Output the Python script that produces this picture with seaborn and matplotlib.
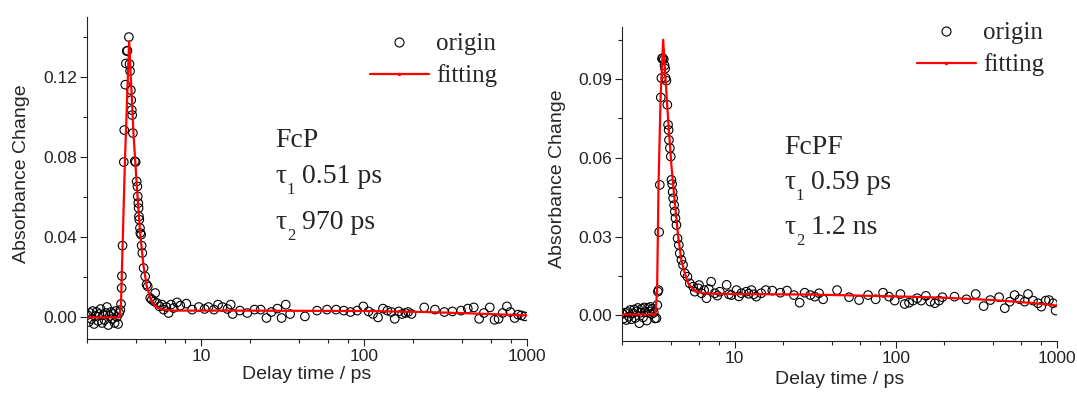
import matplotlib
matplotlib.use("Agg")
import matplotlib.pyplot as plt
import seaborn as sns
from matplotlib.lines import Line2D
from matplotlib.ticker import NullFormatter, FormatStrFormatter

# ---- FcP (left panel) ----
fcp_t = [2.00, 2.04, 2.08, 2.12, 2.16, 2.20, 2.24, 2.28, 2.33, 2.37, 2.41, 2.46, 2.50, 2.55,
         2.59, 2.64, 2.69, 2.74, 2.79, 2.84, 2.89, 2.94, 2.99, 3.04, 3.09, 3.14, 3.19,
         3.22, 3.25, 3.26, 3.29, 3.35, 3.37, 3.42, 3.45, 3.49, 3.53, 3.60,
         3.63, 3.66, 3.70, 3.72, 3.75, 3.77, 3.81, 3.91, 3.96, 4.02, 4.06, 4.08, 4.11, 4.13,
         4.15, 4.17, 4.21, 4.23, 4.28, 4.31, 4.35, 4.43, 4.53, 4.62, 4.70, 4.87, 4.98, 5.15,
         5.22, 5.35, 5.55, 5.74, 5.88, 6.11, 6.31, 6.53, 6.77, 7.11, 7.45, 8.11, 8.80, 9.67,
         10.5, 11.1, 12.0, 12.7, 13.5, 14.5, 15.2, 15.6, 17.3, 19.2, 21.3, 23.2, 25.2, 27.0,
         29.4, 31.2, 33.1, 35.2, 43.4, 51.5, 59.3, 67.4, 75.2, 82.6, 90.9, 99.1, 106.7, 113.6,
         122.0, 130.9, 139.2, 147.3, 154.5, 163.6, 171.6, 179.9, 186.9, 196.0, 234.6, 272.9,
         311.8, 349.4, 394.9, 434.3, 472.9, 510, 545, 593, 634, 671, 711, 755, 792, 843, 884,
         927, 972]
fcp_a = [0.0010, -0.0025, 0.0020, -0.0010, 0.0030, -0.0035, 0.0005, 0.0025, -0.0020, 0.0015,
         0.0040, -0.0030, 0.0010, -0.0015, 0.0020, 0.0050, -0.0040, 0.0005, 0.0025, -0.0010,
         0.0015, -0.0030, 0.0030, 0.0000, -0.0035, 0.0020, 0.0035,
         0.0065, 0.0145, 0.0205, 0.0357, 0.0775, 0.0935, 0.1162, 0.1268, 0.1330, 0.1332, 0.1400,
         0.1265, 0.1230, 0.1135, 0.1085, 0.1035, 0.1010, 0.0920, 0.0779, 0.0775, 0.0678, 0.0653,
         0.0603, 0.0570, 0.0545, 0.0503, 0.0487, 0.0445, 0.0420, 0.0412, 0.0357, 0.0320, 0.0245,
         0.0203, 0.0162, 0.0153, 0.0095, 0.0087, 0.0078, 0.0120, 0.0070, 0.0053, 0.0062, 0.0037,
         0.0050, 0.0020, 0.0062, 0.0045, 0.0073, 0.0057, 0.0067, 0.0037, 0.0050, 0.0040, 0.0050,
         0.0037, 0.0062, 0.0050, 0.0040, 0.0062, 0.0015, 0.0032, 0.0020, 0.0037, 0.0037, -0.0005,
         0.0025, 0.0042, -0.0005, 0.0062, 0.0015, 0.0003, 0.0032, 0.0037, 0.0037, 0.0032, 0.0025,
         0.0032, 0.0053, 0.0028, 0.0015, -0.0002, 0.0042, 0.0032, 0.0025, -0.0009, 0.0028, 0.0015,
         0.0020, 0.0025, 0.0015, 0.0048, 0.0037, 0.0025, 0.0028, 0.0032, 0.0042, 0.0048, -0.0009,
         0.0020, 0.0048, -0.0014, -0.0009, 0.0020, 0.0053, 0.0025, -0.0005, 0.0012, 0.0008, 0.0003]
fcp_fit_t = [2.0, 3.15, 3.22, 3.40, 3.61, 3.84, 4.03, 4.22, 4.43, 4.64, 4.87, 5.22, 5.74,
             6.77, 15, 100, 235, 420, 1000]
fcp_fit_a = [-0.0002, -0.0002, 0.007, 0.077, 0.138, 0.092, 0.065, 0.042, 0.0253, 0.0153,
             0.0095, 0.0053, 0.0037, 0.0032, 0.0032, 0.0030, 0.0025, 0.0019, 0.0008]

# ---- FcPF (right panel) ----
fcpf_t = [2.00, 2.04, 2.08, 2.12, 2.16, 2.20, 2.24, 2.28, 2.33, 2.37, 2.41, 2.46, 2.50, 2.55,
          2.59, 2.64, 2.69, 2.74, 2.79, 2.84, 2.89, 2.94, 2.99, 3.04, 3.09, 3.14, 3.19,
          3.26, 3.30, 3.33, 3.36, 3.39, 3.42, 3.47, 3.50, 3.53, 3.57, 3.62, 3.66, 3.69, 3.72,
          3.76, 3.81, 3.85, 3.88, 3.90, 3.95, 4.00, 4.04, 4.08, 4.11, 4.14, 4.20, 4.24, 4.28,
          4.34, 4.41, 4.49, 4.55, 4.66, 4.77, 4.89, 5.08, 5.25, 5.51, 5.64, 5.92, 6.0, 6.21,
          6.45, 6.67, 6.9, 7.13, 7.51, 7.8, 8.07, 8.90, 9.2, 9.53, 10.24, 10.6, 10.99, 11.8,
          12.2, 12.7, 13.1, 13.6, 14.6, 15.6, 17.1, 19.2, 21.1, 23.3, 25.3, 27.2, 29.5, 31.4,
          33.4, 35.4, 43.2, 51.3, 59.2, 67.3, 75.1, 83.4, 90.9, 98.6, 107, 113.7, 121, 128,
          136, 144, 154, 164, 175, 186, 195, 232, 275, 314, 352, 387, 439, 476, 511, 548, 589,
          633, 664, 713, 766, 803, 855, 896, 949, 986]
fcpf_a = [0.0005, -0.0012, 0.0010, -0.0018, 0.0012, -0.0005, 0.0020, -0.0015, 0.0008, 0.0022,
          -0.0010, 0.0015, 0.0028, -0.0030, 0.0010, 0.0025, -0.0008, 0.0030, 0.0012, -0.0020,
          0.0028, 0.0015, 0.0032, 0.0005, 0.0025, 0.0010, -0.0012,
          -0.0011, 0.0039, 0.0090, 0.0096, 0.0317, 0.0497, 0.0830, 0.0904, 0.0978, 0.0980,
          0.0975, 0.0952, 0.0940, 0.0904, 0.0894, 0.0802, 0.0726, 0.0706, 0.0668, 0.0637,
          0.0605, 0.0516, 0.0500, 0.0470, 0.0446, 0.0420, 0.0395, 0.0370, 0.0344, 0.0293,
          0.0268, 0.0236, 0.0211, 0.0192, 0.0160, 0.0147, 0.0122, 0.0109, 0.0090, 0.0103,
          0.0115, 0.0084, 0.0096, 0.0065, 0.0100, 0.0128, 0.0084, 0.0075, 0.0090, 0.0116,
          0.0080, 0.0077, 0.0096, 0.0072, 0.0084, 0.0090, 0.0082, 0.0096, 0.0080, 0.0071,
          0.0084, 0.0096, 0.0094, 0.0086, 0.0094, 0.0077, 0.0048, 0.0086, 0.0077, 0.0071,
          0.0084, 0.0061, 0.0096, 0.0069, 0.0058, 0.0077, 0.0061, 0.0086, 0.0071, 0.0056,
          0.0081, 0.0043, 0.0048, 0.0056, 0.0065, 0.0056, 0.0074, 0.0052, 0.0046, 0.0056,
          0.0069, 0.0071, 0.0061, 0.0081, 0.0035, 0.0058, 0.0069, 0.0027, 0.0052, 0.0077,
          0.0061, 0.0052, 0.0081, 0.0056, 0.0046, 0.0033, 0.0056, 0.0058, 0.0046, 0.0018]
fcpf_fit_t = [2.0, 3.21, 3.29, 3.36, 3.46, 3.59, 3.67, 3.85, 4.04, 4.24, 4.45, 4.66, 4.89,
              5.13, 5.64, 6.51, 10, 30, 100, 200, 400, 700, 1000]
fcpf_fit_a = [0.0003, 0.0003, 0.009, 0.050, 0.083, 0.105, 0.095, 0.075, 0.057, 0.043, 0.030,
              0.021, 0.016, 0.0122, 0.0092, 0.0083, 0.0081, 0.0079, 0.0072, 0.0067, 0.0058,
              0.0047, 0.0037]

panels = [
    dict(t=fcp_t, a=fcp_a, ft=fcp_fit_t, fa=fcp_fit_a, pos=[0.0811, 0.1396, 0.408, 0.817],
         ylim=(-0.011, 0.150), major=[0, 0.04, 0.08, 0.12], minor=[0.02, 0.06, 0.10, 0.14],
         leg=(0.643, 0.866), txt_x=0.428, txt_y=[0.597, 0.466, 0.322], xlab_y=-0.085,
         name="FcP", taus=["0.51 ps", "970 ps"]),
    dict(t=fcpf_t, a=fcpf_a, ft=fcpf_fit_t, fa=fcpf_fit_a, pos=[0.5778, 0.1345, 0.4033, 0.798],
         ylim=(-0.0098, 0.110), major=[0, 0.03, 0.06, 0.09], minor=[0.015, 0.045, 0.075, 0.105],
         leg=(0.678, 0.928), txt_x=0.373, txt_y=[0.595, 0.464, 0.320], xlab_y=-0.095,
         name="FcPF", taus=["0.59 ps", "1.2 ns"]),
]

sns.set_style("ticks")
plt.rcParams["font.family"] = ["Liberation Sans", "DejaVu Sans"]
serif = "Liberation Serif"

fig = plt.figure(figsize=(10.77, 3.94), dpi=100)

for p in panels:
    ax = fig.add_axes(p["pos"])
    sns.scatterplot(x=p["t"], y=p["a"], ax=ax, marker="o", s=38, fc="none", ec="black",
                    linewidth=0.8, zorder=2)
    sns.lineplot(x=p["ft"], y=p["fa"], ax=ax, color="red", lw=1.6, estimator=None,
                 sort=False, zorder=3)
    ax.set_xscale("log")
    ax.set_xlim(2, 1000)
    ax.set_ylim(*p["ylim"])
    ax.set_xticks([10, 100, 1000], labels=["10", "100", "1000"])
    ax.set_xticks([2, 4, 6, 8, 20, 40, 60, 80, 200, 400, 600, 800], minor=True)
    ax.xaxis.set_minor_formatter(NullFormatter())
    ax.set_yticks(p["major"])
    ax.set_yticks(p["minor"], minor=True)
    ax.yaxis.set_major_formatter(FormatStrFormatter("%.2f"))
    ax.tick_params(which="major", length=5, width=0.8, direction="out", labelsize=12.5,
                   pad=2, colors="#222222")
    ax.tick_params(which="minor", length=3, width=0.8, direction="out", colors="#222222")
    sns.despine(ax=ax)
    for s in ("left", "bottom"):
        ax.spines[s].set_linewidth(0.8)
        ax.spines[s].set_color("#222222")

    ax.set_xlabel("Delay time / ps", fontsize=14)
    ax.set_ylabel("Absorbance Change", fontsize=14)
    ax.xaxis.set_label_coords(0.5, p["xlab_y"])
    ax.yaxis.set_label_coords(-0.130, 0.515)

    handles = [
        Line2D([], [], ls="none", marker="o", ms=6.5, mfc="none", mec="black", mew=0.8),
        Line2D([], [], color="red", lw=1.6, marker=".", ms=3),
    ]
    ax.legend(handles, ["origin", "fitting"], loc="center left", bbox_to_anchor=p["leg"],
              frameon=False, borderpad=0, borderaxespad=0, handlelength=2.36,
              handletextpad=0.28, labelspacing=0.36, numpoints=1,
              prop={"family": serif, "size": 18})

    # sample name and lifetimes, with a low, small subscript as in the original
    ax.text(p["txt_x"], p["txt_y"][0], p["name"], transform=ax.transAxes, fontsize=20,
            family=serif, va="baseline", ha="left")
    for i, (tau, y) in enumerate(zip(p["taus"], p["txt_y"][1:]), start=1):
        t1 = ax.text(p["txt_x"], y, "τ", transform=ax.transAxes, fontsize=20,
                     family=serif, va="bottom", ha="left")
        sub = ax.annotate(str(i), xy=(1, 0), xycoords=t1, xytext=(0.3, -6.5),
                          textcoords="offset points", fontsize=12, family=serif,
                          va="bottom", ha="left")
        ax.annotate(" " + tau, xy=(1, 0), xycoords=sub, xytext=(-0.3, 6.5),
                    textcoords="offset points", fontsize=20, family=serif,
                    va="bottom", ha="left")

fig.savefig("out.png", dpi=100)
